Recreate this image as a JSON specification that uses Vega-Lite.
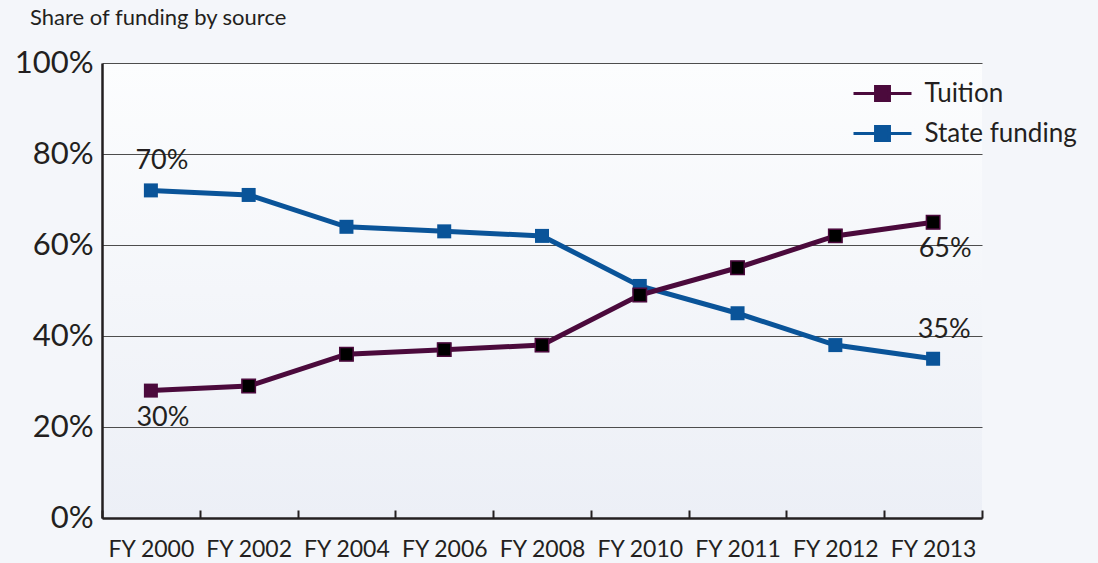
{
  "$schema": "https://vega.github.io/schema/vega-lite/v6.json",
  "width": 880,
  "height": 455,
  "autosize": "none",
  "padding": {"left": 102, "top": 63, "right": 116, "bottom": 45},
  "background": "#f4f6fa",
  "config": {
    "font": "Lato",
    "view": {
      "stroke": null,
      "fill": {"gradient": "linear", "x1": 0, "y1": 0, "x2": 0, "y2": 1,
        "stops": [{"offset": 0, "color": "#fcfdfe"}, {"offset": 1, "color": "#eceff6"}]}
    }
  },
  "title": {
    "text": "Share of funding by source",
    "anchor": "start",
    "frame": "group",
    "dx": -72,
    "offset": 17,
    "fontSize": 22,
    "fontWeight": "normal",
    "color": "#231f20"
  },
  "data": {
    "values": [
      {"year": "FY 2000", "series": "State funding", "value": 72, "label": "70%"},
      {"year": "FY 2002", "series": "State funding", "value": 71, "label": ""},
      {"year": "FY 2004", "series": "State funding", "value": 64, "label": ""},
      {"year": "FY 2006", "series": "State funding", "value": 63, "label": ""},
      {"year": "FY 2008", "series": "State funding", "value": 62, "label": ""},
      {"year": "FY 2010", "series": "State funding", "value": 51, "label": ""},
      {"year": "FY 2011", "series": "State funding", "value": 45, "label": ""},
      {"year": "FY 2012", "series": "State funding", "value": 38, "label": ""},
      {"year": "FY 2013", "series": "State funding", "value": 35, "label": "35%"},
      {"year": "FY 2000", "series": "Tuition", "value": 28, "label": "30%"},
      {"year": "FY 2002", "series": "Tuition", "value": 29, "label": ""},
      {"year": "FY 2004", "series": "Tuition", "value": 36, "label": ""},
      {"year": "FY 2006", "series": "Tuition", "value": 37, "label": ""},
      {"year": "FY 2008", "series": "Tuition", "value": 38, "label": ""},
      {"year": "FY 2010", "series": "Tuition", "value": 49, "label": ""},
      {"year": "FY 2011", "series": "Tuition", "value": 55, "label": ""},
      {"year": "FY 2012", "series": "Tuition", "value": 62, "label": ""},
      {"year": "FY 2013", "series": "Tuition", "value": 65, "label": "65%"}
    ]
  },
  "encoding": {
    "x": {
      "field": "year", "type": "ordinal", "sort": null,
      "scale": {"type": "band", "paddingInner": 0, "paddingOuter": 0},
      "axis": {
        "title": null, "labelAngle": 0, "tickBand": "extent",
        "tickSize": -8, "tickWidth": 2, "tickColor": "#231f20",
        "domainColor": "#231f20", "domainWidth": 2.5,
        "labelFontSize": 23, "labelColor": "#231f20", "labelPadding": 28,
        "grid": false
      }
    },
    "y": {
      "field": "value", "type": "quantitative",
      "scale": {"domain": [0, 100]},
      "axis": {
        "title": null, "values": [0, 20, 40, 60, 80, 100],
        "labelExpr": "datum.value + '%'",
        "ticks": false, "grid": true, "gridColor": "#4d4d4d", "gridWidth": 1,
        "domainColor": "#231f20", "domainWidth": 2.5,
        "labelFontSize": 31, "labelColor": "#231f20", "labelPadding": 9
      }
    }
  },
  "layer": [
    {
      "mark": {"type": "line", "strokeWidth": 5},
      "encoding": {
        "color": {
          "field": "series", "type": "nominal",
          "scale": {"domain": ["Tuition", "State funding"], "range": ["#4b0a3c", "#0a5499"]},
          "legend": {
            "orient": "none", "legendX": 764.5, "legendY": 14.5,
            "title": null, "padding": 0,
            "symbolType": "M-2,0H2M-0.48,-0.48H0.48V0.48H-0.48Z",
            "symbolSize": 841, "symbolStrokeWidth": 3,
            "labelFontSize": 26, "labelColor": "#231f20", "labelOffset": 26,
            "rowPadding": 11
          }
        }
      }
    },
    {
      "mark": {"type": "point", "shape": "square", "filled": true, "size": 196, "opacity": 1},
      "encoding": {
        "color": {"field": "series", "type": "nominal"}
      }
    },
    {
      "transform": [{"filter": "datum.series === 'Tuition' && datum.year !== 'FY 2000'"}],
      "mark": {"type": "point", "shape": "square", "filled": true, "size": 180, "opacity": 1, "fill": "#000000", "stroke": "#4b0a3c", "strokeWidth": 1.5}
    },
    {
      "transform": [{"filter": "datum.label !== '' && datum.series === 'State funding'"}],
      "mark": {"type": "text", "dy": -29, "dx": 11, "fontSize": 27, "color": "#231f20"},
      "encoding": {"text": {"field": "label"}}
    },
    {
      "transform": [{"filter": "datum.label !== '' && datum.series === 'Tuition'"}],
      "mark": {"type": "text", "dy": 27, "dx": 12, "fontSize": 27, "color": "#231f20"},
      "encoding": {"text": {"field": "label"}}
    }
  ]
}
